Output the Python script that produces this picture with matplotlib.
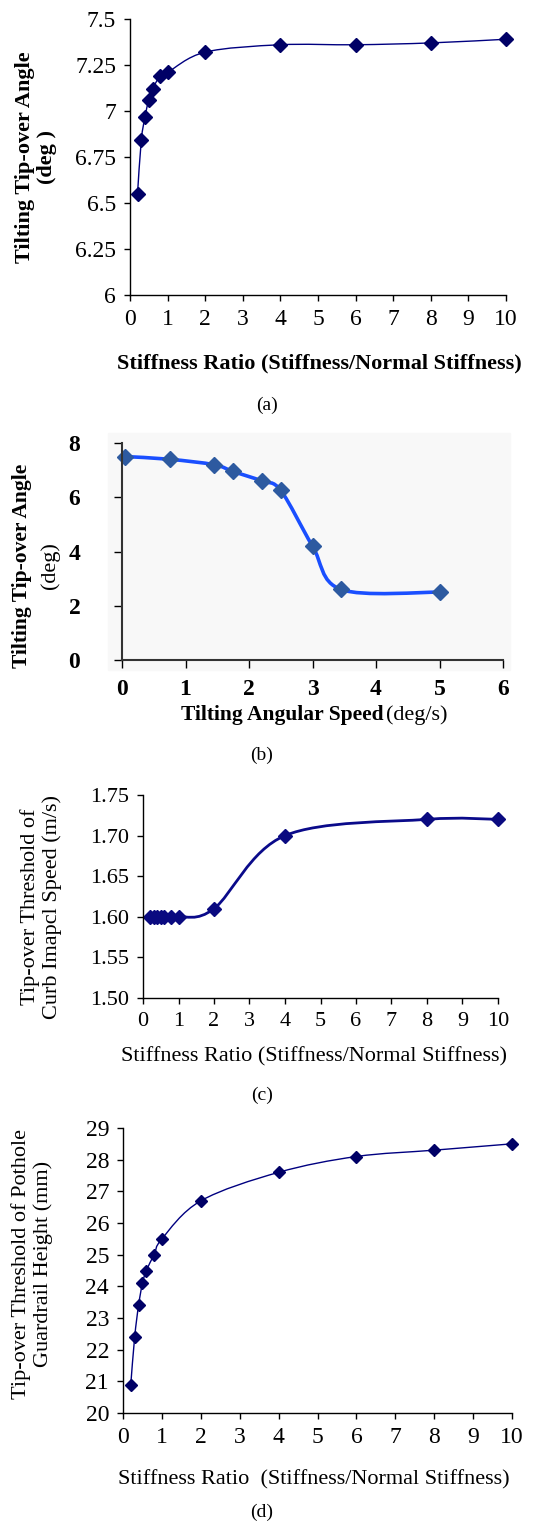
import numpy as np
import matplotlib
matplotlib.use("Agg")
import matplotlib.pyplot as plt
from matplotlib.path import Path
from matplotlib.patches import PathPatch

plt.rcParams["font.family"] = ["Liberation Serif", "DejaVu Serif"]

# (a) tilting tip-over angle vs stiffness ratio
a_x = [0.2, 0.3, 0.4, 0.5, 0.6, 0.8, 1, 2, 4, 6, 8, 10]
a_y = [6.55, 6.84, 6.97, 7.06, 7.12, 7.19, 7.21, 7.32, 7.36, 7.36, 7.37, 7.39]

# (b) tilting tip-over angle vs tilting angular speed
b_x = [0.05, 0.75, 1.45, 1.75, 2.2, 2.5, 3.0, 3.45, 5.0]
b_y = [7.5, 7.4, 7.2, 6.95, 6.6, 6.25, 4.2, 2.6, 2.5]

# (c) curb impact speed threshold vs stiffness ratio
c_x = [0.2, 0.3, 0.4, 0.5, 0.6, 0.8, 1, 2, 4, 8, 10]
c_y = [1.60, 1.60, 1.60, 1.60, 1.60, 1.60, 1.60, 1.61, 1.70, 1.72, 1.72]

# (d) pothole guardrail height threshold vs stiffness ratio
d_x = [0.2, 0.3, 0.4, 0.5, 0.6, 0.8, 1, 2, 4, 6, 8, 10]
d_y = [20.9, 22.4, 23.4, 24.1, 24.5, 25.0, 25.5, 26.7, 27.6, 28.1, 28.3, 28.5]


def smooth_path(x, y):
    """Excel-like smoothed line: cubic bezier through the points."""
    p = np.column_stack([x, y]).astype(float)
    verts = [p[0]]
    codes = [Path.MOVETO]
    n = len(p)
    for i in range(n - 1):
        p0 = p[i - 1] if i > 0 else p[i]
        p3 = p[i + 2] if i + 2 < n else p[i + 1]
        c1 = p[i] + (p[i + 1] - p0) / 6.0
        c2 = p[i + 1] - (p3 - p[i]) / 6.0
        verts += [c1, c2, p[i + 1]]
        codes += [Path.CURVE4] * 3
    return Path(verts, codes)


def style_axes(ax, tick_size, length=4, xpad=6, ypad=6):
    ax.spines["top"].set_visible(False)
    ax.spines["right"].set_visible(False)
    ax.xaxis.set_tick_params(direction="out", length=length, width=1, pad=xpad,
                             labelsize=tick_size, colors="black")
    ax.yaxis.set_tick_params(direction="out", length=length, width=1, pad=ypad,
                             labelsize=tick_size, colors="black")
    for s in ("left", "bottom"):
        ax.spines[s].set_linewidth(1)


W, H = 534, 1530
fig = plt.figure(figsize=(W / 100, H / 100), dpi=100)


def axes_px(x0, x1, ytop, ybot):
    return fig.add_axes([x0 / W, 1 - ybot / H, (x1 - x0) / W, (ybot - ytop) / H])


# ---- (a)
ax = axes_px(130, 506, 19, 295)
ax.add_patch(PathPatch(smooth_path(a_x, a_y), fill=False, ec="#000080", lw=1.0))
ax.plot(a_x, a_y, ls="none", marker="D", ms=7.5, color="#000066", clip_on=False)
ax.set_xlim(0, 10)
ax.set_ylim(6, 7.5)
ax.set_xticks(range(0, 11))
ax.set_yticks([6, 6.25, 6.5, 6.75, 7, 7.25, 7.5])
ax.set_yticklabels(["6", "6.25", "6.5", "6.75", "7", "7.25", "7.5"])
style_axes(ax, 17)

# ---- (b)
bg = plt.Rectangle((108 / W, 1 - 670 / H), (510 - 108) / W, (670 - 433) / H,
                   transform=fig.transFigure, color="#f8f8f8", zorder=-5)
fig.add_artist(bg)
ax = axes_px(122, 503, 443, 660)
ax.patch.set_alpha(0)
ax.add_patch(PathPatch(smooth_path(b_x, b_y), fill=False, ec="#1a4fff", lw=2.6))
ax.plot(b_x, b_y, ls="none", marker="D", ms=8, color="#2d5aa0", clip_on=False)
ax.set_xlim(0, 6)
ax.set_ylim(0, 8)
ax.set_xticks(range(0, 7))
ax.set_yticks([0, 2, 4, 6, 8])
style_axes(ax, 17, length=6, xpad=8, ypad=24)
for lab in ax.get_xticklabels() + ax.get_yticklabels():
    lab.set_fontweight("bold")
ax.spines["left"].set_color("#333333")
ax.spines["bottom"].set_color("#333333")
ax.spines["left"].set_linewidth(1.5)
ax.spines["bottom"].set_linewidth(1.5)

# ---- (c)
ax = axes_px(143, 498, 795, 998)
ax.add_patch(PathPatch(smooth_path(c_x, c_y), fill=False, ec="#0a0a8a", lw=2.0))
ax.plot(c_x, c_y, ls="none", marker="D", ms=7.5, color="#0a0a80", clip_on=False)
ax.set_xlim(0, 10)
ax.set_ylim(1.5, 1.75)
ax.set_xticks(range(0, 11))
ax.set_yticks([1.50, 1.55, 1.60, 1.65, 1.70, 1.75])
ax.set_yticklabels(["1.50", "1.55", "1.60", "1.65", "1.70", "1.75"])
style_axes(ax, 16)

# ---- (d)
ax = axes_px(123, 512, 1128, 1413)
ax.add_patch(PathPatch(smooth_path(d_x, d_y), fill=False, ec="#000080", lw=1.0))
ax.plot(d_x, d_y, ls="none", marker="D", ms=6, color="#000066", clip_on=False)
ax.set_xlim(0, 10)
ax.set_ylim(20, 29)
ax.set_xticks(range(0, 11))
ax.set_yticks(range(20, 30))
style_axes(ax, 17)

# ---- labels
def ftext(x, y, s, ha="center", **kw):
    fig.text(x / W, 1 - y / H, s, ha=ha, va="center", **kw)

ftext(319, 363, "Stiffness Ratio (Stiffness/Normal Stiffness)", fontsize=16, fontweight="bold")
ftext(36, 157, "Tilting Tip-over Angle\n(deg )", fontsize=16, fontweight="bold", rotation=90, linespacing=1.1)
ftext(267, 405, "(a)", fontsize=14)

ftext(384, 715, "Tilting Angular Speed", ha="right", fontsize=15.5, fontweight="bold")
ftext(386, 715, "(deg/s)", ha="left", fontsize=16)
ftext(22, 566, "Tilting Tip-over Angle", fontsize=15.5, fontweight="bold", rotation=90)
ftext(50, 566, "(deg)", fontsize=16, rotation=90)
ftext(262, 755, "(b)", fontsize=14)

ftext(314, 1057, "Stiffness Ratio (Stiffness/Normal Stiffness)", fontsize=16)
ftext(41, 907, "Tip-over Threshold of\nCurb Imapcl Speed (m/s)", fontsize=16, rotation=90, linespacing=1.1)
ftext(262, 1095, "(c)", fontsize=14)

ftext(314, 1480, "Stiffness Ratio  (Stiffness/Normal Stiffness)", fontsize=16)
ftext(32, 1264, "Tip-over Threshold of Pothole\nGuardrail Height (mm)", fontsize=16, rotation=90, linespacing=1.1)
ftext(262, 1512, "(d)", fontsize=14)

fig.savefig("out.png", dpi=100)
